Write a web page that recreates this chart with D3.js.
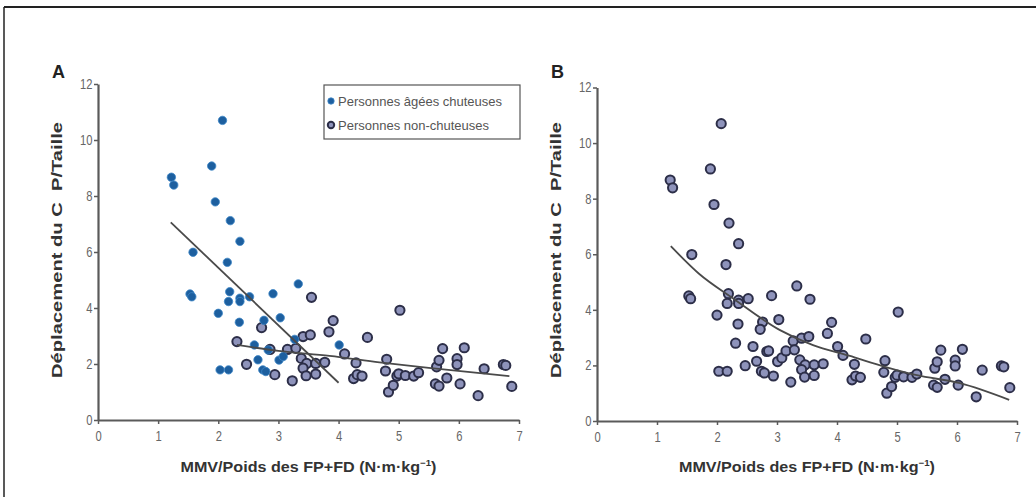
<!DOCTYPE html>
<html><head><meta charset="utf-8">
<script src="https://cdn.jsdelivr.net/npm/d3@7"></script>
<style>
body{margin:0;background:#fff;}
svg{display:block;}
text{font-family:"Liberation Sans Narrow","Liberation Sans",Arial,sans-serif;}
</style></head>
<body>
<svg id="c" width="1036" height="497"></svg>
<script>
// ---- data ----
const xTicks = [0,1,2,3,4,5,6,7];
const yTicks = [0,2,4,6,8,10,12];
const seriesNames = ["Personnes âgées chuteuses","Personnes non-chuteuses"];
// fallers (x, y)
const fallersX = [1.22,1.26,2.07,1.89,1.95,2.20,2.36,1.58,1.53,1.56,2.15,2.19,2.17,2.36,2.36,2.52,2.00,2.35,2.03,2.17,2.91,3.33,3.03,2.76,2.60,2.66,2.74,2.79,2.83,3.01,3.08,3.27,4.01];
const fallersY = [8.67,8.39,10.70,9.07,7.79,7.12,6.38,5.99,4.50,4.40,5.63,4.58,4.23,4.35,4.23,4.40,3.81,3.49,1.79,1.79,4.51,4.86,3.65,3.56,2.68,2.15,1.79,1.73,2.50,2.14,2.27,2.88,2.68];
// non-fallers (x, y)
const nonX = [2.31,2.47,2.72,2.86,2.94,3.23,3.15,3.29,3.41,3.53,3.55,3.38,3.47,3.41,3.46,3.62,3.62,3.77,3.84,3.91,4.10,4.29,4.25,4.31,4.39,4.48,4.80,4.78,4.83,4.91,4.97,5.00,5.02,5.11,5.25,5.33,5.61,5.67,5.63,5.67,5.73,5.80,5.97,5.97,6.09,6.02,6.32,6.42,6.74,6.78,6.88];
const nonY = [2.80,1.99,3.30,2.52,1.62,1.40,2.52,2.56,2.98,3.04,4.38,2.20,2.02,1.85,1.58,2.02,1.64,2.06,3.15,3.55,2.36,2.04,1.48,1.62,1.57,2.95,2.17,1.75,1.00,1.24,1.57,1.65,3.92,1.59,1.57,1.69,1.29,1.21,1.90,2.13,2.55,1.50,2.19,1.98,2.58,1.29,0.87,1.83,1.98,1.95,1.20];
// fitted lines
const fitFallX = [1.21,4.00];
const fitFallY = [7.06,1.33];
const fitNonX = [2.31,3.00,3.85,4.68,5.50,6.84];
const fitNonY = [2.68,2.47,2.29,2.06,1.86,1.57];
const fitAllX = [1.23,1.70,2.27,3.05,3.60,4.20,4.80,5.33,6.05,6.87];
const fitAllY = [6.29,5.30,4.41,3.27,2.73,2.35,1.95,1.65,1.36,0.76];

const svg = d3.select("#c");
// frame
svg.append("line").attr("x1",4).attr("x2",1036).attr("y1",7).attr("y2",7).attr("stroke","#222").attr("stroke-width",2);
svg.append("line").attr("x1",4).attr("x2",4).attr("y1",7).attr("y2",497).attr("stroke","#222").attr("stroke-width",1.5);

const zip = (xs,ys)=>xs.map((x,i)=>[x,ys[i]]);
const fallers = zip(fallersX,fallersY);
const nons = zip(nonX,nonY);

function panel(cfg){
  const x = d3.scaleLinear().domain([0,7]).range([cfg.l,cfg.r]);
  const y = d3.scaleLinear().domain([0,12]).range([cfg.b,cfg.t]);
  const g = svg.append("g");
  const xa = g.append("g").attr("transform",`translate(0,${cfg.b})`)
    .call(d3.axisBottom(x).tickValues(xTicks).tickFormat(d3.format("d")).tickSizeInner(4).tickSizeOuter(0).tickPadding(7));
  const ya = g.append("g").attr("transform",`translate(${cfg.l},0)`)
    .call(d3.axisLeft(y).tickValues(yTicks).tickFormat(d3.format("d")).tickSizeInner(4).tickSizeOuter(0).tickPadding(3));
  [xa,ya].forEach(a=>{
    a.select(".domain").attr("stroke","#5a5a5a").attr("stroke-width",2.2);
    a.selectAll(".tick line").attr("stroke","#5a5a5a").attr("stroke-width",1.5);
    a.selectAll(".tick text").attr("fill","#666").attr("font-size",14)
      .attr("font-family","Liberation Sans Narrow, Liberation Sans, sans-serif");
  });
  xa.selectAll(".tick text").attr("transform","scale(0.8,1)");
  ya.selectAll(".tick text").attr("transform","scale(0.8,1)");
  // panel letter
  g.append("text").attr("x",cfg.l-46).attr("y",78).text(cfg.letter)
    .attr("font-size",18).attr("font-weight","bold").attr("fill","#222").attr("font-family","Liberation Sans, Arial, sans-serif");
  // axis titles
  const xt = g.append("text").attr("x",(cfg.l+cfg.r)/2).attr("y",472).attr("text-anchor","middle")
    .attr("font-size",15).attr("font-weight","bold").attr("fill","#333")
    .attr("textLength",256).attr("lengthAdjust","spacingAndGlyphs");
  xt.append("tspan").text("MMV/Poids des FP+FD (N·m·kg");
  xt.append("tspan").text("−1").attr("dy",-6).attr("font-size",9);
  xt.append("tspan").text(")").attr("dy",6);
  g.append("text").attr("transform",`translate(${cfg.l-36},250) rotate(-90)`).attr("text-anchor","middle")
    .attr("font-size",15).attr("font-weight","bold").attr("fill","#333").style("white-space","pre")
    .attr("textLength",256).attr("lengthAdjust","spacingAndGlyphs")
    .text("Déplacement du C  P/Taille");
  return {x,y,g};
}

const A = panel({l:98,r:519,t:84,b:420,letter:"A"});
const B = panel({l:597,r:1017,t:87.5,b:421,letter:"B"});

const line = (p,xs,ys,curve)=>p.g.append("path").datum(zip(xs,ys))
  .attr("d",d3.line().x(d=>p.x(d[0])).y(d=>p.y(d[1])).curve(curve))
  .attr("fill","none").attr("stroke","#4a4a4a").attr("stroke-width",1.8);

function ring(sel){ sel.attr("r",4.6).attr("fill","#8e93bb").attr("stroke","#2c2e48").attr("stroke-width",2); }
function dot(sel){ sel.attr("r",4.2).attr("fill","#1d5f9f").attr("stroke","#3d86c6").attr("stroke-width",0.8); }

// panel A
A.g.selectAll("circle.n").data(nons).join("circle").attr("class","n")
  .attr("cx",d=>A.x(d[0])).attr("cy",d=>A.y(d[1])).call(ring);
A.g.selectAll("circle.f").data(fallers).join("circle").attr("class","f")
  .attr("cx",d=>A.x(d[0])).attr("cy",d=>A.y(d[1])).call(dot);
line(A,fitFallX,fitFallY,d3.curveLinear);
line(A,fitNonX,fitNonY,d3.curveMonotoneX);

// legend
const lg = A.g.append("g");
lg.append("rect").attr("x",324).attr("y",85).attr("width",196).attr("height",54)
  .attr("fill","#fff").attr("stroke","#555").attr("stroke-width",1.2);
const legRows = [{name:seriesNames[0],f:dot,y:101},{name:seriesNames[1],f:ring,y:125}];
legRows.forEach(r=>{
  lg.append("circle").attr("cx",331).attr("cy",r.y).call(r.f).attr("r",3.2);
  lg.append("text").attr("x",338).attr("y",r.y+4.5).text(r.name).attr("font-size",13).attr("fill","#555")
    .attr("font-family","Liberation Sans Narrow, Liberation Sans, sans-serif");
});

// panel B (all subjects)
B.g.selectAll("circle.a").data(fallers.concat(nons)).join("circle").attr("class","a")
  .attr("cx",d=>B.x(d[0])).attr("cy",d=>B.y(d[1])).call(ring);
line(B,fitAllX,fitAllY,d3.curveMonotoneX);
</script>
</body></html>
